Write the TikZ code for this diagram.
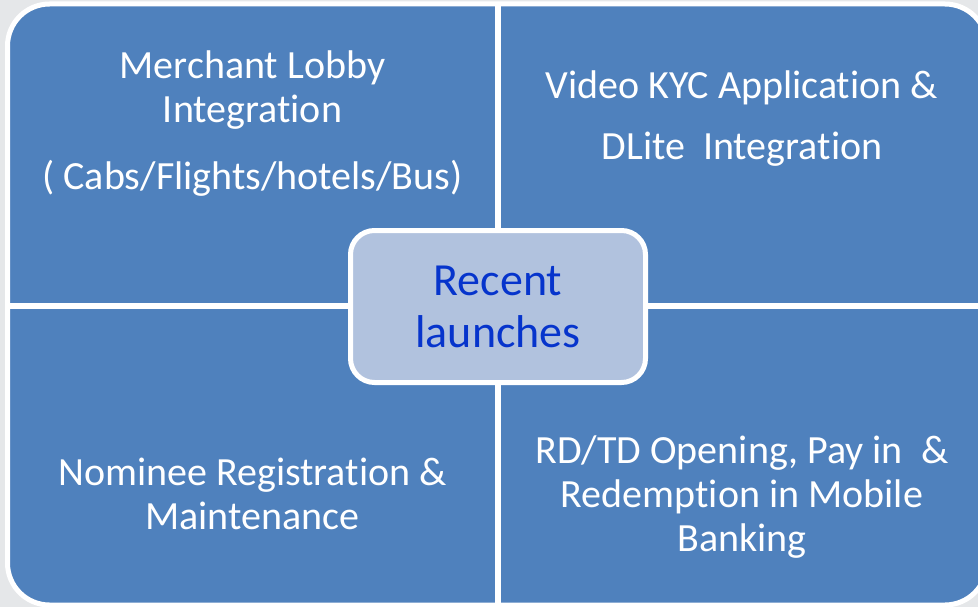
\documentclass[tikz,border=0pt]{standalone}
\usepackage{fontspec}
\setmainfont{Carlito}[Ligatures=NoCommon]
\usepackage{tikz}
\definecolor{bggray}{RGB}{229,231,233}
\definecolor{quadblue}{RGB}{79,129,189}
\definecolor{hubfill}{RGB}{177,194,222}
\definecolor{hubtext}{RGB}{6,52,204}
\begin{document}
\begin{tikzpicture}[x=1pt,y=-1pt,
    quadtext/.style={text=white, align=center, inner sep=0pt, font=\fontsize{40}{44}\selectfont},
    hubbox/.style={fill=hubfill, draw=white, line width=5pt, rounded corners=24pt,
        minimum width=295pt, minimum height=152pt, align=center, text=hubtext,
        font=\fontsize{46}{52}\selectfont}]
            \fill[bggray] (0,0) rectangle (978,607);
            \useasboundingbox (0,0) rectangle (978,607);
            \draw[fill=quadblue, draw=white, line width=5pt, rounded corners=42pt] (7.5,4) rectangle (987,605);
            \draw[white, line width=6pt] (498,4) -- (498,605);
            \draw[white, line width=6pt] (7.5,306) -- (987,306);
            \node[quadtext] (merchant) at (252.5,124) {Merchant Lobby\\Integration\\[23pt]( Cabs/Flights/hotels/Bus)};
            \node[quadtext] (videokyc) at (742,119) {Video KYC Application \&\\[17pt]DLite~~Integration};
            \node[quadtext] (nominee) at (252.5,494) {Nominee Registration \&\\Maintenance};
            \node[quadtext] (rdtd) at (742,497) {RD/TD Opening, Pay in~~\&\\Redemption in Mobile\\Banking};
            \node[hubbox] (hub) at (498,306.5) {Recent\\launches};
        \end{tikzpicture}
\end{document}
